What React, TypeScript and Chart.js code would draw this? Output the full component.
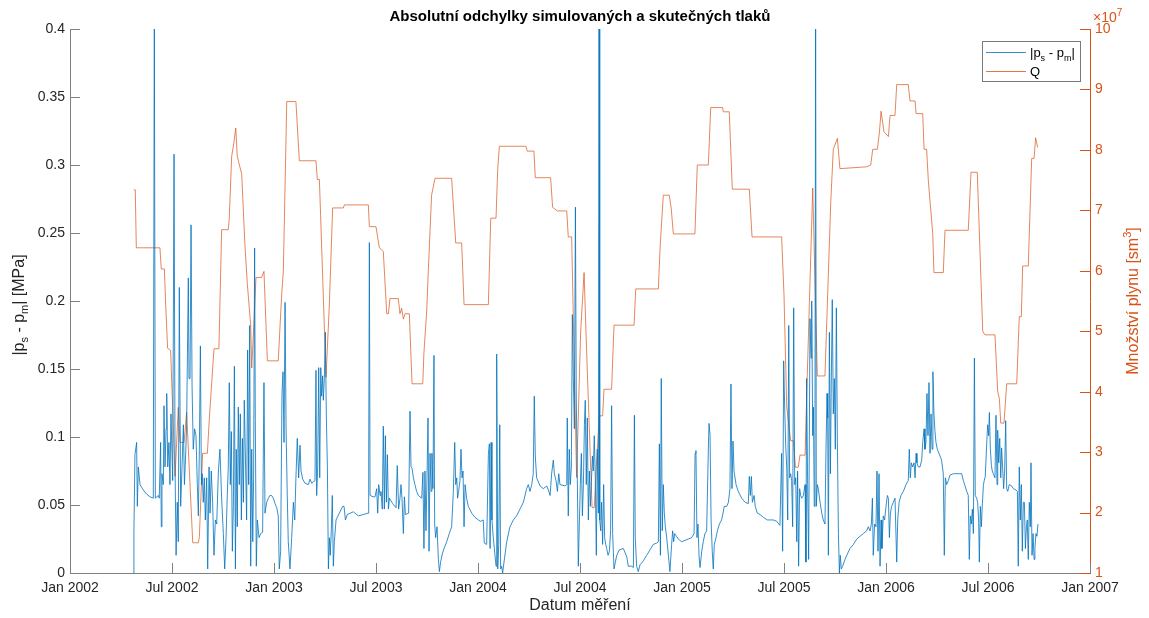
import React, { useEffect, useRef } from 'react';
import { Chart, registerables } from 'chart.js';

Chart.register(...registerables);

// ---------- text ----------
const TITLE = 'Absolutní odchylky simulovaných a skutečných tlaků';
const X_LABEL = 'Datum měření';
const xTickLabels = ['Jan 2002', 'Jul 2002', 'Jan 2003', 'Jul 2003', 'Jan 2004', 'Jul 2004', 'Jan 2005', 'Jul 2005', 'Jan 2006', 'Jul 2006', 'Jan 2007'];
const EXPONENT_BASE = '×10';
const EXPONENT_POWER = '7';

// ---------- data ----------
// x: months since Jan 2002
const blueMonths = [
  3.73, 3.76, 3.82, 3.92, 3.96, 4.02, 4.12, 4.31, 4.51, 4.71, 4.90, 4.96, 5.02, 5.20, 5.25, 5.33, 5.37, 5.41, 5.49, 5.53,
  5.59, 5.65, 5.69, 5.75, 5.82, 5.88, 5.94, 6.04, 6.12, 6.18, 6.24, 6.31, 6.37, 6.43, 6.51, 6.59, 6.67, 6.73, 6.80, 6.86,
  6.96, 7.00, 7.06, 7.12, 7.18, 7.25, 7.33, 7.41, 7.49, 7.55, 7.61, 7.67, 7.73, 7.78, 7.84, 7.90, 7.96, 8.04, 8.10, 8.18,
  8.24, 8.31, 8.39, 8.47, 8.55, 8.63, 8.73, 8.82, 8.92, 9.02, 9.10, 9.18, 9.25, 9.31, 9.37, 9.43, 9.49, 9.55, 9.61, 9.67,
  9.73, 9.78, 9.84, 9.90, 9.96, 10.02, 10.08, 10.14, 10.20, 10.25, 10.31, 10.39, 10.45, 10.51, 10.57, 10.63, 10.69, 10.75, 10.80, 10.86,
  10.90, 10.96, 11.02, 11.12, 11.22, 11.33, 11.41, 11.47, 11.57, 11.67, 11.76, 11.86, 11.96, 12.06, 12.16, 12.25, 12.31, 12.39, 12.47, 12.53,
  12.59, 12.65, 12.71, 12.78, 12.84,
  12.94, 13.04, 13.14, 13.22, 13.29, 13.37, 13.45, 13.53, 13.59, 13.69, 13.82, 14.02, 14.12, 14.22, 14.41, 14.47, 14.51, 14.57, 14.63, 14.69,
  14.75, 14.80, 14.86, 14.90, 14.96, 15.02, 15.08, 15.14, 15.20, 15.26, 15.31, 15.37, 15.43, 15.49, 15.55, 15.65, 15.84, 16.04, 16.12, 16.20,
  16.31, 16.67, 16.96, 17.25, 17.53, 17.57, 17.61, 17.65, 17.84, 17.94, 18.04, 18.10, 18.16, 18.24, 18.29, 18.37, 18.43, 18.49, 18.55, 18.61,
  18.67, 18.73, 18.79, 18.98, 19.18, 19.25, 19.33, 19.41, 19.47, 19.53, 19.61, 19.67, 19.73, 19.92, 20.00, 20.06, 20.12, 20.20, 20.29, 20.39,
  20.49, 20.69, 20.76, 20.82, 20.88, 20.94, 21.00, 21.06, 21.12, 21.18, 21.24, 21.29, 21.35, 21.41, 21.45, 21.51, 21.59, 21.67, 21.73, 21.80,
  21.90, 22.00, 22.16, 22.31, 22.45, 22.55, 22.63, 22.69, 22.75, 22.80, 22.86, 22.94, 23.00, 23.06, 23.12, 23.18, 23.24, 23.33, 23.43,
  23.63, 23.82, 24.02, 24.16, 24.31, 24.37, 24.51, 24.61, 24.67, 24.71, 24.77, 24.82, 24.90, 25.00, 25.06, 25.10, 25.16, 25.22, 25.28, 25.33,
  25.39, 25.45, 25.53, 25.69, 25.88, 26.08, 26.27, 26.47, 26.67, 26.86, 26.96, 27.06, 27.16, 27.25, 27.31, 27.37, 27.45, 27.65, 27.84, 28.04,
  28.14, 28.24, 28.33, 28.43, 28.49, 28.59, 28.67, 28.75, 28.82, 29.12, 29.22, 29.25, 29.31, 29.37, 29.43, 29.49, 29.55, 29.61, 29.67, 29.73,
  29.78, 29.84, 29.90, 29.96, 30.02, 30.08, 30.14, 30.20, 30.26, 30.31, 30.37, 30.43, 30.49, 30.55, 30.61, 30.67, 30.73, 30.78, 30.84, 30.90,
  30.96, 31.02, 31.08, 31.12, 31.16, 31.22, 31.27, 31.33, 31.39, 31.45, 31.51, 31.57, 31.65, 31.73, 31.80, 31.86, 31.92, 32.00, 32.08, 32.16,
  32.31, 32.55, 32.75, 32.84, 33.04, 33.14, 33.20, 33.25, 33.33,
  33.43, 33.53, 33.73, 33.92, 34.12, 34.31, 34.51, 34.61, 34.67, 34.73, 34.78, 34.84, 34.90, 34.96, 35.02, 35.10, 35.20, 35.29, 35.39, 35.45,
  35.51, 35.57, 35.78, 35.98, 36.37, 36.57, 36.71, 36.77, 36.82, 36.88, 36.94, 37.00, 37.06, 37.16, 37.25, 37.35, 37.45, 37.55, 37.59, 37.65,
  37.71, 37.78, 37.84, 37.90, 38.00, 38.08, 38.20, 38.33, 38.49, 38.63, 38.73, 38.82, 38.88, 38.94, 39.00, 39.06, 39.18, 39.31, 39.51, 39.71,
  39.90, 39.96, 40.02, 40.08, 40.14, 40.24, 40.31, 40.43, 40.59, 40.78, 41.02, 41.37, 41.57, 41.76, 41.86, 41.92, 41.98, 42.04, 42.10, 42.16,
  42.22, 42.28, 42.33, 42.39, 42.45, 42.51, 42.57, 42.63, 42.69, 42.75, 42.80, 42.86, 42.92, 42.98, 43.04, 43.14,
  43.24, 43.29, 43.33, 43.39, 43.45, 43.53, 43.59, 43.63, 43.69, 43.73, 43.78, 43.82, 43.86, 43.90, 43.96, 44.02, 44.12, 44.22, 44.31, 44.41,
  44.47, 44.53, 44.57, 44.61, 44.67, 44.73, 44.78, 44.84, 44.90, 44.96, 45.02, 45.08, 45.14, 45.20, 45.26, 45.31, 45.37, 45.45, 45.59, 45.73,
  45.88, 46.08, 46.28, 46.47, 46.67, 46.86, 46.96, 47.06, 47.14, 47.20, 47.25, 47.33, 47.41, 47.47, 47.53, 47.59, 47.65, 47.71, 47.76, 47.84,
  47.92, 48.00, 48.08, 48.14, 48.20, 48.26, 48.33, 48.43, 48.53, 48.63, 48.69, 48.77, 48.88, 49.02, 49.18, 49.31, 49.37, 49.43, 49.49, 49.57,
  49.65, 49.71, 49.77, 49.82, 49.90, 50.00, 50.10, 50.16, 50.24, 50.29, 50.35, 50.41, 50.47, 50.53, 50.59, 50.65, 50.71, 50.76, 50.82, 50.88,
  50.94, 51.02, 51.18, 51.27, 51.37, 51.43, 51.49, 51.57, 51.67, 51.76, 51.96, 52.35,
  52.45, 52.55, 52.65, 52.75, 52.84, 52.90, 52.96, 53.02, 53.08, 53.14, 53.20, 53.25, 53.33, 53.39, 53.45, 53.49, 53.55, 53.61, 53.67, 53.73,
  53.78, 53.84, 53.92, 53.98, 54.04, 54.08, 54.14, 54.20, 54.25, 54.31, 54.41, 54.47, 54.53, 54.57, 54.63, 54.69, 54.75, 54.80, 54.86, 54.92,
  54.98, 55.04, 55.10, 55.16, 55.25, 55.39, 55.49, 55.65, 55.73, 55.78, 55.84, 55.90, 55.96, 56.02, 56.08, 56.14, 56.20, 56.26, 56.31, 56.37,
  56.43, 56.49, 56.53, 56.59, 56.65, 56.71, 56.76, 56.82, 56.88, 56.94,
];
// |ps - pm| in MPa
const blueValues = [
  0, 0.029, 0.087, 0.096, 0.049, 0.078, 0.065, 0.061, 0.058, 0.056, 0.055, 0.42, 0.055, 0.057, 0.055, 0.096, 0.034, 0.073, 0.065, 0.123,
  0.078, 0.106, 0.132, 0.078, 0.096, 0.065, 0.117, 0.068, 0.308, 0.078, 0.013, 0.052, 0.023, 0.21, 0.049, 0.078, 0.109, 0.065, 0.086, 0.109,
  0.217, 0.143, 0.143, 0.256, 0.138, 0.091, 0.106, 0.101, 0.065, 0.042, 0.091, 0.167, 0.065, 0.073, 0.052, 0.070, 0.039, 0.070, 0.003, 0.078,
  0.044, 0.075, 0.052, 0.013, 0.039, 0.036, 0.075, 0.091, 0.055, 0.029, 0.003, 0.026, 0.057, 0.078, 0.140, 0.065, 0.104, 0.016, 0.049, 0.152,
  0.003, 0.091, 0.034, 0.122, 0.065, 0.117, 0.039, 0.099, 0.052, 0.127, 0.091, 0.039, 0.164, 0.065, 0.182, 0.005, 0.091, 0.023, 0.070, 0.239,
  0.112, 0.005, 0.039, 0.026, 0.029, 0.030, 0.140, 0.044, 0.052, 0.055, 0.057, 0.057, 0.055, 0.051, 0.048, 0.042, 0.003, 0.016, 0.132, 0.148,
  0.096, 0.199, 0.106, 0.057, 0.023,
  0.003, 0.026, 0.052, 0.039, 0.070, 0.099, 0.070, 0.094, 0.075, 0.069, 0.066, 0.065, 0.069, 0.066, 0.068, 0.149, 0.057, 0.078, 0.151, 0.070,
  0.151, 0.130, 0.145, 0.127, 0.143, 0.177, 0.114, 0.078, 0.003, 0.026, 0.013, 0.031, 0.057, 0.005, 0.023, 0.039, 0.044, 0.049, 0.049, 0.039,
  0.043, 0.045, 0.042, 0.043, 0.044, 0.081, 0.243, 0.057, 0.056, 0.056, 0.062, 0.044, 0.065, 0.057, 0.060, 0.047, 0.108, 0.047, 0.101, 0.052,
  0.087, 0.047, 0.055, 0.051, 0.048, 0.079, 0.047, 0.055, 0.065, 0.055, 0.029, 0.056, 0.043, 0.044, 0.119, 0.078, 0.077, 0.070, 0.065, 0.060,
  0.057, 0.055, 0.074, 0.018, 0.075, 0.031, 0.071, 0.114, 0.016, 0.088, 0.060, 0.088, 0.062, 0.160, 0.036, 0.026, 0.034, 0.010, 0.001, 0.008,
  0.014, 0.018, 0.023, 0.029, 0.034, 0.060, 0.096, 0.065, 0.070, 0.055, 0.060, 0.068, 0.091, 0.070, 0.075, 0.034, 0.065, 0.055, 0.049,
  0.044, 0.041, 0.039, 0.038, 0.039, 0.022, 0.021, 0.087, 0.095, 0.018, 0.096, 0.039, 0.026, 0.013, 0.005, 0.161, 0.003, 0.021, 0.109, 0.003,
  0.005, 0, 0.008, 0.023, 0.034, 0.039, 0.042, 0.047, 0.052, 0.062, 0.065, 0.060, 0.065, 0.073, 0.130, 0.086, 0.070, 0.064, 0.062, 0.064,
  0.061, 0.057, 0.073, 0.083, 0.073, 0.068, 0.060, 0.073, 0.065, 0.064, 0.065, 0.114, 0.042, 0.091, 0.065, 0.078, 0.190, 0.143, 0.106, 0.269,
  0.130, 0.073, 0.005, 0.036, 0.065, 0.088, 0.042, 0.065, 0.109, 0.127, 0.065, 0.114, 0.039, 0.075, 0.049, 0.067, 0.086, 0.075, 0.101, 0.070,
  0.013, 0.091, 0.044, 0.42, 0.039, 0.031, 0.052, 0.021, 0.065, 0.026, 0.021, 0.018, 0.013, 0.016, 0.031, 0.123, 0.029, 0.003, 0.008, 0.013,
  0.017, 0.018, 0.012, 0.005, 0.005, 0.004, 0.116, 0.026, 0.005,
  0.001, 0.006, 0.009, 0.013, 0.017, 0.021, 0.022, 0.023, 0.095, 0.013, 0.143, 0.031, 0.065, 0.044, 0.034, 0.026, 0.013, 0.001, 0.021, 0.031,
  0.023, 0.029, 0.025, 0.023, 0.025, 0.026, 0.029, 0.088, 0.090, 0.026, 0.036, 0.013, 0.004, 0.016, 0.023, 0.029, 0.031, 0.091, 0.110, 0.101,
  0.039, 0.016, 0.003, 0.021, 0.026, 0.031, 0.036, 0.039, 0.049, 0.049, 0.052, 0.062, 0.139, 0.062, 0.097, 0.075, 0.065, 0.060, 0.055, 0.052,
  0.051, 0.071, 0.057, 0.071, 0.052, 0.057, 0.049, 0.044, 0.043, 0.041, 0.039, 0.039, 0.038, 0.035, 0.088, 0.016, 0.156, 0.122, 0.094, 0.078,
  0.039, 0.182, 0.070, 0.073, 0.068, 0.034, 0.195, 0.065, 0.070, 0.023, 0.075, 0.005, 0.062, 0.057, 0.055, 0.057,
  0.065, 0.008, 0.143, 0.065, 0.010, 0.187, 0.158, 0.200, 0.101, 0.122, 0.049, 0.091, 0.42, 0.049, 0.065, 0.062, 0.052, 0.044, 0.039, 0.036,
  0.091, 0.132, 0.114, 0.013, 0.177, 0.073, 0.138, 0.201, 0.117, 0.143, 0.091, 0.195, 0.096, 0.029, 0, 0.013, 0.003, 0.005, 0.010, 0.014,
  0.018, 0.021, 0.025, 0.027, 0.029, 0.031, 0.034, 0.031, 0.036, 0.055, 0.013, 0.036, 0.034, 0.075, 0.016, 0.073, 0.005, 0.039, 0.018, 0.042,
  0.039, 0.049, 0.057, 0.055, 0.026, 0.044, 0.049, 0.052, 0.055, 0.008, 0.039, 0.052, 0.057, 0.060, 0.065, 0.068, 0.091, 0.070, 0.081, 0.078,
  0.081, 0.070, 0.088, 0.081, 0.078, 0.078, 0.083, 0.096, 0.106, 0.091, 0.096, 0.132, 0.101, 0.140, 0.088, 0.117, 0.091, 0.148, 0.117, 0.104,
  0.096, 0.091, 0.086, 0.083, 0.073, 0.013, 0.070, 0.065, 0.068, 0.072, 0.073, 0.073,
  0.073, 0.068, 0.064, 0.060, 0.057, 0.010, 0.042, 0.036, 0.047, 0.029, 0.158, 0.057, 0.055, 0.052, 0.039, 0.008, 0.049, 0.034, 0.051, 0.065,
  0.068, 0.071, 0.094, 0.109, 0.101, 0.118, 0.091, 0.079, 0.075, 0.073, 0.070, 0.116, 0.065, 0.105, 0.081, 0.099, 0.070, 0.092, 0.078, 0.062,
  0.075, 0.112, 0.062, 0.060, 0.065, 0.064, 0.062, 0.061, 0.060, 0.005, 0.078, 0.039, 0.065, 0.016, 0.052, 0.052, 0.018, 0.034, 0.039, 0.010,
  0.052, 0.034, 0.081, 0.013, 0.029, 0.010, 0.018, 0.029, 0.027, 0.036,
];

const qMonths = [
  3.76, 3.84, 3.90, 5.29, 5.37, 5.55, 5.63, 5.74, 5.92, 6.18, 6.37, 6.47, 6.71, 6.86, 7.22, 7.55, 7.61, 7.80, 8.08, 8.20,
  8.47, 8.76, 8.92, 9.31, 9.37, 9.51, 9.63, 9.75, 9.84, 10.10, 10.29, 10.43, 10.63, 10.69, 10.82, 10.94, 11.27, 11.41, 11.61, 12.25,
  12.45, 12.55, 12.75, 13.29, 13.49, 14.47, 14.55, 14.67, 14.74, 15.06, 15.25, 15.45, 16.08, 16.14, 17.55, 17.61, 18.00, 18.10, 18.20, 18.43,
  18.63, 18.73, 18.82, 19.31, 19.41, 19.51, 19.61, 19.71, 19.96, 20.12, 20.75, 20.82, 20.98, 21.08, 21.27, 21.47, 22.45, 22.69, 23.04, 23.18,
  24.61, 24.75, 25.06, 25.16, 25.26, 26.82, 26.90, 27.29, 27.37, 28.27, 28.39, 28.67, 29.22, 29.31, 29.51, 29.80, 30.04, 30.24, 30.35, 30.71,
  30.84, 30.98, 31.14, 31.33, 31.41, 31.86, 32.00, 33.18, 33.28, 34.61, 34.71, 34.90, 35.25, 35.37, 35.49, 36.76, 36.90, 37.55, 37.69, 38.39,
  38.43, 38.78, 38.96, 39.96, 40.12, 41.86, 42.00, 42.16, 42.39, 42.55, 42.67, 42.84, 42.94, 43.24, 43.37, 43.69, 43.96, 44.41, 44.75, 44.90,
  45.14, 45.29, 46.86, 47.10, 47.22, 47.49, 47.61, 47.71, 47.88, 48.14, 48.24, 48.53, 48.63, 49.31, 49.41, 49.71, 49.77, 50.16, 50.24, 50.39,
  50.49, 50.75, 50.82, 51.37, 51.47, 52.84, 53.00, 53.37, 53.69, 53.82, 54.41, 54.57, 54.67, 54.75, 54.94, 55.10, 55.69, 55.84, 55.96, 56.04,
  56.37, 56.57, 56.71, 56.80, 56.92,
];
// Q in units of 10^7 sm3
const qValues = [
  7.34, 7.34, 6.38, 6.38, 6.03, 6.03, 5.44, 4.72, 4.68, 2.60, 3.74, 3.16, 3.16, 3.66, 1.50, 1.50, 1.60, 2.98, 2.98, 3.57,
  4.71, 4.71, 6.68, 6.68, 6.87, 7.89, 8.10, 8.36, 7.89, 7.60, 6.43, 5.79, 5.09, 4.39, 5.15, 5.89, 5.89, 5.99, 4.51, 4.51,
  5.60, 6.00, 8.80, 8.80, 7.82, 7.82, 7.51, 7.51, 6.93, 4.24, 5.40, 7.04, 7.04, 7.09, 7.09, 6.73, 6.73, 6.55, 6.38, 6.32,
  5.29, 5.29, 5.54, 5.54, 5.29, 5.38, 5.20, 5.29, 5.29, 4.13, 4.13, 4.65, 5.32, 6.02, 7.25, 7.53, 7.53, 6.46, 6.46, 5.44,
  5.44, 6.87, 6.87, 7.69, 8.06, 8.06, 7.98, 7.98, 7.54, 7.54, 7.05, 6.99, 6.99, 6.56, 6.56, 2.58, 5.00, 5.97, 5.00, 2.08,
  2.08, 2.87, 3.60, 3.60, 4.04, 4.04, 5.10, 5.10, 5.70, 5.70, 6.38, 7.25, 7.25, 7.02, 6.61, 6.61, 7.75, 7.75, 8.70, 8.70,
  8.63, 8.63, 7.35, 7.35, 6.56, 6.56, 5.60, 3.75, 3.19, 3.19, 2.75, 2.75, 2.95, 2.95, 4.27, 7.37, 4.26, 4.26, 7.14, 8.01,
  8.19, 7.69, 7.72, 7.75, 8.01, 8.01, 8.28, 8.64, 8.30, 8.22, 8.57, 8.57, 9.08, 9.08, 8.81, 8.81, 8.60, 8.60, 8.01, 8.01,
  7.49, 6.61, 5.97, 5.97, 6.67, 6.67, 7.63, 7.63, 5.00, 4.94, 4.94, 4.00, 3.88, 3.48, 3.48, 4.13, 4.13, 5.24, 5.24, 6.08,
  6.08, 7.86, 7.86, 8.20, 8.04,
];

// ---------- style ----------
const FAMILY = '"Liberation Sans", Arial, Helvetica, sans-serif';
const BLUE = '#0072BD';
const ORANGE = '#D95319';
const TEXT = '#262626';
const AXIS = '#808080';
const TICK_LEN = 10;

type Part = { t: string; s?: 'sub' | 'sup' };

const leftTitle: Part[] = [{ t: '|p' }, { t: 's', s: 'sub' }, { t: ' - p' }, { t: 'm', s: 'sub' }, { t: '| [MPa]' }];
const rightTitle: Part[] = [{ t: 'Množství plynu [sm' }, { t: '3', s: 'sup' }, { t: ']' }];
const legendBlue: Part[] = [{ t: '|p' }, { t: 's', s: 'sub' }, { t: ' - p' }, { t: 'm', s: 'sub' }, { t: '|' }];
const legendQ: Part[] = [{ t: 'Q' }];

function drawRich(ctx: CanvasRenderingContext2D, parts: Part[], x: number, y: number, size: number, small: number, align: 'left' | 'center') {
  let total = 0;
  for (const p of parts) {
    ctx.font = `${p.s ? small : size}px ${FAMILY}`;
    total += ctx.measureText(p.t).width;
  }
  let cx = align === 'center' ? x - total / 2 : x;
  ctx.textAlign = 'left';
  ctx.textBaseline = 'alphabetic';
  for (const p of parts) {
    const sz = p.s ? small : size;
    ctx.font = `${sz}px ${FAMILY}`;
    const dy = p.s === 'sub' ? size * 0.3 : p.s === 'sup' ? -size * 0.45 : 0;
    ctx.fillText(p.t, cx, y + dy);
    cx += ctx.measureText(p.t).width;
  }
}

const overlay = {
  id: 'overlay',
  afterDraw(chart: any) {
    const { ctx, chartArea: a, scales } = chart;
    const xs = scales.x;
    const yl = scales.y;
    const yr = scales.y1;
    ctx.save();
    ctx.lineWidth = 1;
    // inward ticks
    ctx.strokeStyle = AXIS;
    ctx.beginPath();
    for (let i = 0; i < xTickLabels.length; i++) {
      const px = Math.round(xs.getPixelForValue(i * 6)) + 0.5;
      ctx.moveTo(px, a.bottom);
      ctx.lineTo(px, a.bottom - TICK_LEN);
    }
    for (const t of yl.ticks) {
      const py = Math.round(yl.getPixelForValue(t.value)) + 0.5;
      ctx.moveTo(a.left, py);
      ctx.lineTo(a.left + TICK_LEN, py);
    }
    ctx.stroke();
    ctx.strokeStyle = ORANGE;
    ctx.beginPath();
    for (const t of yr.ticks) {
      const py = Math.round(yr.getPixelForValue(t.value)) + 0.5;
      ctx.moveTo(a.right, py);
      ctx.lineTo(a.right - TICK_LEN, py);
    }
    ctx.stroke();

    // title
    ctx.fillStyle = '#000';
    ctx.font = `bold 15px ${FAMILY}`;
    ctx.textAlign = 'center';
    ctx.textBaseline = 'middle';
    ctx.fillText(TITLE, (a.left + a.right) / 2, 17);

    // x label
    ctx.fillStyle = TEXT;
    ctx.font = `16px ${FAMILY}`;
    ctx.fillText(X_LABEL, (a.left + a.right) / 2, 606);

    // left y title
    ctx.save();
    ctx.translate(23.5, 305);
    ctx.rotate(-Math.PI / 2);
    ctx.fillStyle = TEXT;
    drawRich(ctx, leftTitle, 0, 0, 16, 11, 'center');
    ctx.restore();

    // right y title
    ctx.save();
    ctx.translate(1138, 301);
    ctx.rotate(-Math.PI / 2);
    ctx.fillStyle = ORANGE;
    drawRich(ctx, rightTitle, 0, 0, 16, 11, 'center');
    ctx.restore();

    // exponent
    ctx.fillStyle = ORANGE;
    drawRich(ctx, [{ t: EXPONENT_BASE }, { t: EXPONENT_POWER, s: 'sup' }], a.right + 3, 22, 14, 10, 'left');

    // legend
    const lx = 982, ly = 41, lw = 98, lh = 40;
    ctx.fillStyle = '#fff';
    ctx.fillRect(lx, ly, lw, lh);
    ctx.strokeStyle = '#7a7a7a';
    ctx.lineWidth = 1;
    ctx.strokeRect(lx + 0.5, ly + 0.5, lw, lh);
    const rows: [Part[], string, number][] = [[legendBlue, BLUE, 52.5], [legendQ, ORANGE, 71.5]];
    for (const [parts, color, ry] of rows) {
      ctx.strokeStyle = color;
      ctx.lineWidth = 0.8;
      ctx.beginPath();
      ctx.moveTo(986, ry);
      ctx.lineTo(1026, ry);
      ctx.stroke();
      ctx.fillStyle = '#000';
      drawRich(ctx, parts, 1030, ry + 4.5, 13, 9, 'left');
    }
    ctx.restore();
  },
};

export default function App() {
  const ref = useRef<HTMLCanvasElement>(null);
  useEffect(() => {
    const canvas = ref.current;
    if (!canvas) return;
    Chart.defaults.font.family = FAMILY;
    const blueData = blueMonths.map((m, i) => ({ x: m, y: blueValues[i] }));
    const qData = qMonths.map((m, i) => ({ x: m, y: qValues[i] }));
    const chart = new Chart(canvas, {
      type: 'line',
      data: {
        datasets: [
          { label: 'ps - pm', data: blueData, yAxisID: 'y', borderColor: BLUE, borderWidth: 0.8, pointRadius: 0, tension: 0, fill: false },
          { label: 'Q', data: qData, yAxisID: 'y1', borderColor: ORANGE, borderWidth: 0.7, pointRadius: 0, tension: 0, fill: false },
        ],
      },
      options: {
        responsive: false,
        animation: false,
        devicePixelRatio: 1,
        layout: { padding: { top: 29, left: 0, right: 0, bottom: 0 } },
        plugins: { legend: { display: false }, tooltip: { enabled: false }, title: { display: false } },
        scales: {
          x: {
            type: 'linear',
            min: 0,
            max: 60,
            grid: { display: false, drawTicks: false },
            border: { display: true, color: AXIS, width: 1 },
            ticks: {
              stepSize: 6,
              autoSkip: false,
              maxRotation: 0,
              padding: 7,
              color: TEXT,
              font: { size: 14 },
              callback: (v: any) => xTickLabels[Math.round(Number(v) / 6)] ?? '',
            },
            afterFit: (s: any) => { s.height = 45; },
          },
          y: {
            type: 'linear',
            position: 'left',
            min: 0,
            max: 0.4,
            grid: { display: false, drawTicks: false },
            border: { display: true, color: AXIS, width: 1 },
            ticks: {
              stepSize: 0.05,
              padding: 5,
              color: TEXT,
              font: { size: 14 },
              callback: (v: any) => String(Number(Number(v).toFixed(2))),
            },
            afterFit: (s: any) => { s.width = 70; },
          },
          y1: {
            type: 'linear',
            position: 'right',
            min: 1,
            max: 10,
            grid: { display: false, drawTicks: false },
            border: { display: true, color: ORANGE, width: 1 },
            ticks: {
              stepSize: 1,
              padding: 5,
              color: ORANGE,
              font: { size: 14 },
              callback: (v: any) => String(Math.round(Number(v))),
            },
            afterFit: (s: any) => { s.width = 59; },
          },
        },
      } as any,
      plugins: [overlay],
    });
    return () => chart.destroy();
  }, []);
  return (
    <div style={{ position: 'absolute', left: 0, top: 0, width: 1149, height: 618, background: '#fff' }}>
      <canvas ref={ref} width={1149} height={618} style={{ display: 'block', width: 1149, height: 618 }} />
    </div>
  );
}
